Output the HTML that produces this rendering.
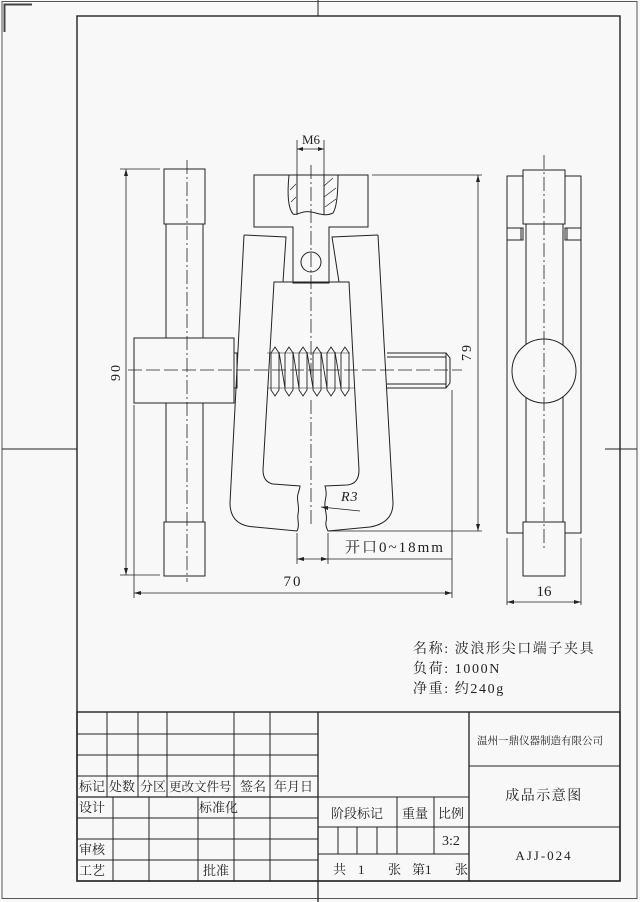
<!DOCTYPE html>
<html><head><meta charset="utf-8"><style>
html,body{margin:0;padding:0;background:#f8f8f8;}
svg{display:block;}
text{font-family:"Liberation Serif","Noto Serif CJK SC","Noto Sans CJK SC",serif;fill:#222;}
</style></head><body>
<svg width="640" height="902" viewBox="0 0 640 902" xmlns="http://www.w3.org/2000/svg">
<g fill="none" stroke="#222" stroke-width="1">
<rect x="2" y="1.5" width="635" height="897" stroke="#555"/>
<path d="M4.5 32V4.5H32" stroke-width="2" stroke="#444"/>
<rect x="77" y="16" width="543" height="865" stroke-width="1.4"/>
<line x1="318" y1="0" x2="318" y2="16"/>
<line x1="318" y1="881" x2="318" y2="902"/>
<line x1="2" y1="449" x2="77" y2="449"/>
<line x1="605" y1="449" x2="637" y2="449"/>

<rect x="164" y="169" width="41" height="55"/>
<line x1="166" y1="224" x2="166" y2="338"/><line x1="203" y1="224" x2="203" y2="338"/>
<rect x="134" y="338" width="100" height="65"/>
<rect x="234" y="353" width="3" height="35"/>
<line x1="166" y1="403" x2="166" y2="522"/><line x1="203" y1="403" x2="203" y2="522"/>
<rect x="164" y="522" width="41" height="54"/>
<line x1="187" y1="160" x2="187" y2="582" stroke-dasharray="14,3,2,3" stroke-width="0.8"/>

<path d="M254 175H368V227H329V283H293V227H254Z"/>
<line x1="297" y1="175" x2="297" y2="215"/><line x1="324" y1="175" x2="324" y2="215"/>
<path d="M289 175C287 195 288 208 293 214C297 216 302 210 311 212C318 213 325 217 333 213C337 207 338 190 338 175"/>
<path d="M290 190L296 184M291 202L296 197M324 186L333 178M324 197L336 188M325 207L336 199" stroke-width="0.7"/>
<circle cx="311" cy="262" r="10"/>

<path d="M244 235L286 237L283 282M378 235L332 237L339 282"/>
<path d="M244 235L230 503Q230 526 255 527L297 531C300 525 297 520 298 514C300 506 296 500 298 494C299 490 300 488 300 486L273 484Q263 482 263 470L274 282H349L359 470Q359 484 347 485L325 486C327 492 326 497 325 502C324 510 328 515 326 522C325 527 328 530 328 531L370 527Q393 523 393 503L378 235"/>
<g stroke-width="0.9">
<path d="M271 353L275 347L279 353V390L275 396L271 390Z"/>
<path d="M285 353L289 347L293 353V390L289 396L285 390Z"/>
<path d="M299 353L303 347L307 353V390L303 396L299 390Z"/>
<path d="M313 353L317 347L321 353V390L317 396L313 390Z"/>
<path d="M327 353L331 347L335 353V390L331 396L327 390Z"/>
<path d="M341 353L345 347L349 353V390L345 396L341 390Z"/>
<path d="M279 352L285 388M293 352L299 388M307 352L313 388M321 352L327 388M335 352L341 388"/>
</g>
<line x1="267" y1="353" x2="350" y2="353" stroke-width="0.6"/>
<line x1="267" y1="388" x2="355" y2="388" stroke-width="0.6"/>
<path d="M387 353H446L450 358V383L446 388H387"/>
<line x1="387" y1="357" x2="446" y2="357"/><line x1="387" y1="384" x2="446" y2="384"/>
<line x1="446" y1="353" x2="446" y2="388"/>
<line x1="311" y1="165" x2="311" y2="378" stroke-dasharray="14,3,2,3" stroke-width="0.8"/>
<line x1="311" y1="400" x2="311" y2="525" stroke-dasharray="14,3,2,3" stroke-width="0.8"/>
<line x1="128" y1="370" x2="462" y2="370" stroke-dasharray="14,4" stroke-width="0.8"/>

<g stroke-width="0.8">
<line x1="297" y1="140" x2="297" y2="175"/><line x1="324" y1="140" x2="324" y2="175"/>
<line x1="297" y1="149" x2="324" y2="149"/>
<line x1="120" y1="169" x2="160" y2="169"/><line x1="120" y1="575" x2="160" y2="575"/>
<line x1="126" y1="169" x2="126" y2="575"/>
<line x1="372" y1="175" x2="482" y2="175"/><line x1="329" y1="531" x2="482" y2="531"/>
<line x1="478" y1="175" x2="478" y2="531"/>
<line x1="297" y1="533" x2="297" y2="564"/><line x1="328" y1="533" x2="328" y2="564"/>
<line x1="297" y1="559" x2="452" y2="559"/>
<line x1="452" y1="390" x2="452" y2="598"/><line x1="134" y1="405" x2="134" y2="598"/>
<line x1="134" y1="593" x2="452" y2="593"/>
<line x1="360" y1="511" x2="321" y2="507"/>
<line x1="507" y1="538" x2="507" y2="605"/><line x1="581" y1="538" x2="581" y2="605"/>
<line x1="507" y1="602" x2="581" y2="602"/>
</g>
<g fill="#222" stroke="none">
<path d="M297 149l6-2v4zM324 149l-6-2v4z"/>
<path d="M126 169l-2 7h4zM126 575l-2-7h4z"/>
<path d="M478 175l-2 7h4zM478 531l-2-7h4z"/>
<path d="M297 559l7-2v4zM328 559l-7-2v4z"/>
<path d="M134 593l7-2v4zM452 593l-7-2v4z"/>
<path d="M321 507l7-1v4z"/>
<path d="M507 602l7-2v4zM581 602l-7-2v4z"/>
</g>

<rect x="507" y="176" width="74" height="357"/>
<rect x="523" y="170" width="42" height="54" fill="#f8f8f8"/>
<line x1="526" y1="224" x2="526" y2="522"/><line x1="563" y1="224" x2="563" y2="522"/>
<rect x="507" y="228" width="16" height="12" fill="#f8f8f8"/><rect x="565" y="228" width="16" height="12" fill="#f8f8f8"/>
<line x1="521" y1="228" x2="521" y2="240"/><line x1="567" y1="228" x2="567" y2="240"/>
<rect x="523" y="522" width="42" height="54" fill="#f8f8f8"/>
<circle cx="544" cy="371" r="32" fill="#f8f8f8"/>
<line x1="544" y1="155" x2="544" y2="550" stroke-dasharray="14,3,2,3" stroke-width="0.8"/>

<rect x="77" y="712" width="543" height="169" stroke-width="1.4"/>
<line x1="77" y1="734" x2="318" y2="734"/>
<line x1="77" y1="755" x2="318" y2="755"/>
<line x1="77" y1="776" x2="318" y2="776"/>
<line x1="77" y1="797" x2="318" y2="797" stroke-width="1.3"/>
<line x1="77" y1="818" x2="318" y2="818"/>
<line x1="77" y1="839" x2="318" y2="839"/>
<line x1="77" y1="860" x2="318" y2="860"/>
<line x1="107" y1="712" x2="107" y2="797"/>
<line x1="138" y1="712" x2="138" y2="797"/>
<line x1="167" y1="712" x2="167" y2="797"/>
<line x1="113" y1="797" x2="113" y2="881"/>
<line x1="149" y1="797" x2="149" y2="881"/>
<line x1="198" y1="797" x2="198" y2="881"/>
<line x1="234" y1="712" x2="234" y2="881"/>
<line x1="270" y1="712" x2="270" y2="881"/>
<line x1="318" y1="712" x2="318" y2="902" stroke-width="1.3"/>
<line x1="469" y1="712" x2="469" y2="881" stroke-width="1.3"/>
<line x1="318" y1="797" x2="469" y2="797"/>
<line x1="318" y1="827" x2="620" y2="827"/>
<line x1="318" y1="854" x2="469" y2="854"/>
<line x1="469" y1="766" x2="620" y2="766"/>
<line x1="397" y1="797" x2="397" y2="854"/>
<line x1="434" y1="797" x2="434" y2="854"/>
<line x1="338" y1="827" x2="338" y2="854"/>
<line x1="357" y1="827" x2="357" y2="854"/>
<line x1="377" y1="827" x2="377" y2="854"/>
</g>

<text x="311" y="144" font-size="13" text-anchor="middle">M6</text>
<text x="0" y="0" font-size="14" text-anchor="middle" letter-spacing="2" transform="translate(120,372) rotate(-90)">90</text>
<text x="0" y="0" font-size="14" text-anchor="middle" letter-spacing="2" transform="translate(471,352) rotate(-90)">79</text>
<text x="341" y="501" font-size="14" font-style="italic" letter-spacing="1">R3</text>
<text x="345" y="552" font-size="15" letter-spacing="2">开口0~18mm</text>
<text x="293" y="586" font-size="15" text-anchor="middle" letter-spacing="2">70</text>
<text x="544" y="596" font-size="15" text-anchor="middle">16</text>

<text x="413" y="653" font-size="14" letter-spacing="1.6">名称: 波浪形尖口端子夹具</text>
<text x="413" y="673" font-size="14" letter-spacing="1.6">负荷: 1000N</text>
<text x="413" y="693" font-size="14" letter-spacing="1.6">净重: 约240g</text>

<g font-size="13">
<text x="79" y="791">标记</text><text x="109" y="791">处数</text><text x="140" y="791">分区</text>
<text x="169" y="791" font-size="12.5">更改文件号</text><text x="240" y="791">签名</text><text x="274" y="791">年月日</text>
<text x="79" y="812">设计</text><text x="199" y="812">标准化</text>
<text x="79" y="854">审核</text><text x="79" y="875">工艺</text><text x="203" y="875">批准</text>
<text x="357" y="818" text-anchor="middle">阶段标记</text>
<text x="415" y="818" text-anchor="middle">重量</text>
<text x="451" y="818" text-anchor="middle">比例</text>
<text x="451" y="845" text-anchor="middle" font-size="14" font-family="Liberation Mono,monospace">3:2</text>
<text x="333" y="874">共</text><text x="358" y="874">1</text><text x="388" y="874">张</text>
<text x="412" y="874">第1</text><text x="455" y="874">张</text>
<text x="540" y="744" text-anchor="middle" font-size="10.5">温州一鼎仪器制造有限公司</text>
<text x="544" y="800" text-anchor="middle" font-size="14" letter-spacing="1.5">成品示意图</text>
<text x="544" y="860" text-anchor="middle" font-size="13" letter-spacing="2">AJJ-024</text>
</g>
</svg>
</body></html>
